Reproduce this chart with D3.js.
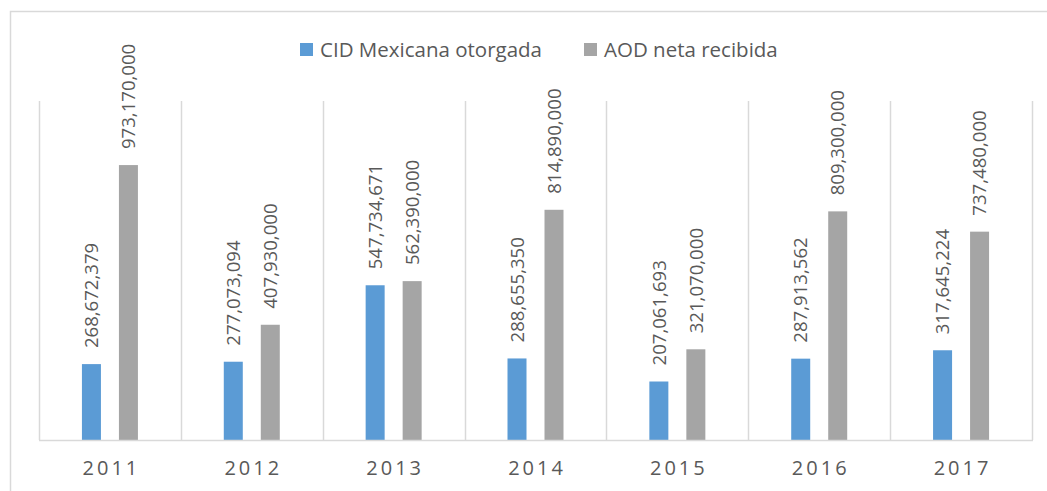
<!DOCTYPE html>
<meta charset="utf-8">
<script src="https://d3js.org/d3.v7.min.js"></script>
<style>
  body { margin: 0; background: #fff; }
  text { font-family: "Open Sans", sans-serif; fill: #595959; }
</style>
<div id="vis"></div>
<script>

var years = ["2011", "2012", "2013", "2014", "2015", "2016", "2017"]
var cid = [268672379, 277073094, 547734671, 288655350, 207061693, 287913562, 317645224]
var aod = [973170000, 407930000, 562390000, 814890000, 321070000, 809300000, 737480000]
var seriesNames = ["CID Mexicana otorgada", "AOD neta recibida"]
var colors = ["#5B9BD5", "#A5A5A5"]

var width = 1047,
    height = 491

var svg = d3.select("#vis")
  .append("svg")
    .attr("width", width)
    .attr("height", height)

// chart frame
svg.append("rect")
  .attr("x", 10.5).attr("y", 11.5)
  .attr("width", width + 20).attr("height", height + 20)
  .attr("fill", "none")
  .attr("stroke", "#d9d9d9")
  .attr("stroke-width", 1.5)

var plotLeft = 39, plotRight = 1032, plotTop = 101, plotBottom = 440

var x = d3.scaleBand()
  .domain(years)
  .range([plotLeft, plotRight])

var y = d3.scaleLinear()
  .domain([0, 1200000000])
  .range([plotBottom, plotTop])

// vertical separators between categories
var bounds = years.map(function(d) { return x(d) }).concat([plotRight])
svg.selectAll("line.grid")
  .data(bounds)
  .enter()
  .append("line")
    .attr("class", "grid")
    .attr("x1", function(d) { return Math.round(d) + 0.5 })
    .attr("x2", function(d) { return Math.round(d) + 0.5 })
    .attr("y1", plotTop)
    .attr("y2", plotBottom)
    .attr("stroke", "#d9d9d9")
    .attr("stroke-width", 1.5)

var barW = 19, offset = 18.5

var data = []
years.forEach(function(yr, i) {
  data.push({year: yr, s: 0, value: cid[i]})
  data.push({year: yr, s: 1, value: aod[i]})
})

function cx(d) {
  return x(d.year) + x.bandwidth() / 2 + (d.s === 0 ? -offset : offset)
}

svg.selectAll("rect.bar")
  .data(data)
  .enter()
  .append("rect")
    .attr("class", "bar")
    .attr("x", function(d) { return cx(d) - barW / 2 })
    .attr("y", function(d) { return y(d.value) })
    .attr("width", barW)
    .attr("height", function(d) { return plotBottom - y(d.value) })
    .attr("fill", function(d) { return colors[d.s] })

// axis line
svg.append("line")
  .attr("x1", plotLeft).attr("x2", plotRight + 1)
  .attr("y1", plotBottom + 0.5).attr("y2", plotBottom + 0.5)
  .attr("stroke", "#d9d9d9")
  .attr("stroke-width", 1.5)

// value labels
var fmt = d3.format(",")
svg.selectAll("text.lbl")
  .data(data)
  .enter()
  .append("text")
    .attr("class", "lbl")
    .attr("transform", function(d) {
      return "translate(" + cx(d) + "," + (y(d.value) - 16) + ") rotate(-90)"
    })
    .attr("dy", "0.36em")
    .style("font-size", "18.6px")
    .text(function(d) { return fmt(d.value) })

// category labels
svg.selectAll("text.cat")
  .data(years)
  .enter()
  .append("text")
    .attr("class", "cat")
    .attr("x", function(d) { return x(d) + x.bandwidth() / 2 + 1.5 })
    .attr("y", 475)
    .attr("text-anchor", "middle")
    .style("font-size", "20px")
    .style("letter-spacing", "3px")
    .text(function(d) { return d })

// legend
var legX = [300, 584]
var leg = svg.selectAll("g.leg")
  .data(seriesNames)
  .enter()
  .append("g")
    .attr("class", "leg")
    .attr("transform", function(d, i) { return "translate(" + legX[i] + ",43)" })

leg.append("rect")
  .attr("width", 13).attr("height", 13)
  .attr("fill", function(d, i) { return colors[i] })

leg.append("text")
  .attr("x", 20)
  .attr("y", 14)
  .style("font-size", "20.5px")
  .text(function(d) { return d })

</script>
